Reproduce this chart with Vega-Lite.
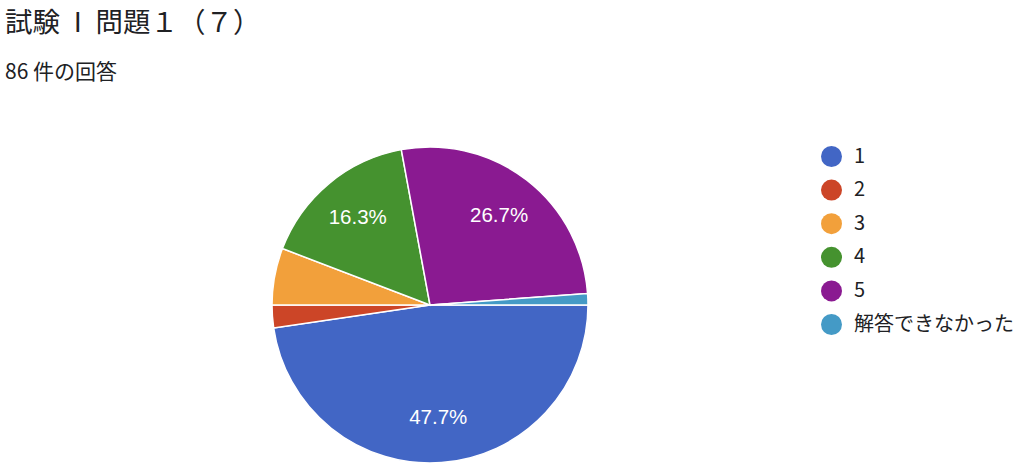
{
  "$schema": "https://vega.github.io/schema/vega-lite/v6.json",
  "autosize": {"type": "none"},
  "width": 850,
  "height": 310,
  "padding": {"left": 5, "top": 150, "right": 169, "bottom": 14},
  "background": "white",
  "title": {
    "text": "試験\u2002I\u2002問題１（７）",
    "subtitle": "86 件の回答",
    "anchor": "start",
    "frame": "group",
    "font": "Noto Sans CJK JP",
    "fontSize": 27.5,
    "fontWeight": "normal",
    "color": "#202124",
    "subtitleFont": "Noto Sans CJK JP",
    "subtitleFontSize": 21,
    "subtitleColor": "#202124",
    "subtitlePadding": 25,
    "offset": 61
  },
  "data": {
    "values": [
      {"cat": "1", "count": 41},
      {"cat": "2", "count": 2},
      {"cat": "3", "count": 5},
      {"cat": "4", "count": 14},
      {"cat": "5", "count": 23},
      {"cat": "解答できなかった", "count": 1}
    ]
  },
  "transform": [
    {"joinaggregate": [{"op": "sum", "field": "count", "as": "total"}]},
    {"calculate": "format(datum.count / datum.total * 100, '.1f') + '%'", "as": "label"}
  ],
  "encoding": {
    "theta": {
      "field": "count",
      "type": "quantitative",
      "stack": true,
      "scale": {"range": [1.5707963, 7.8539816]}
    },
    "color": {
      "field": "cat",
      "type": "nominal",
      "scale": {
        "domain": ["1", "2", "3", "4", "5", "解答できなかった"],
        "range": ["#4266c5", "#cc4527", "#f2a03b", "#45922f", "#8a1a91", "#449ac6"]
      },
      "legend": {
        "orient": "none",
        "legendX": 816,
        "legendY": -4,
        "title": null,
        "symbolType": "circle",
        "symbolSize": 441,
        "symbolStrokeWidth": 0,
        "labelFont": "Noto Sans CJK JP",
        "labelFontSize": 20,
        "labelColor": "#202124",
        "labelOffset": 12,
        "rowPadding": 12.6,
        "padding": 0
      }
    },
    "order": {"field": "cat", "type": "nominal", "sort": "ascending"}
  },
  "layer": [
    {
      "mark": {"type": "arc", "outerRadius": 158, "stroke": "white", "strokeWidth": 1.5}
    },
    {
      "mark": {"type": "text", "radius": 113, "font": "Liberation Sans", "fontSize": 20.5, "fill": "white", "baseline": "middle", "align": "center"},
      "encoding": {
        "text": {"condition": {"test": "datum.count < 10", "value": ""}, "field": "label", "type": "nominal"},
        "color": {"value": "white"}
      }
    }
  ]
}
